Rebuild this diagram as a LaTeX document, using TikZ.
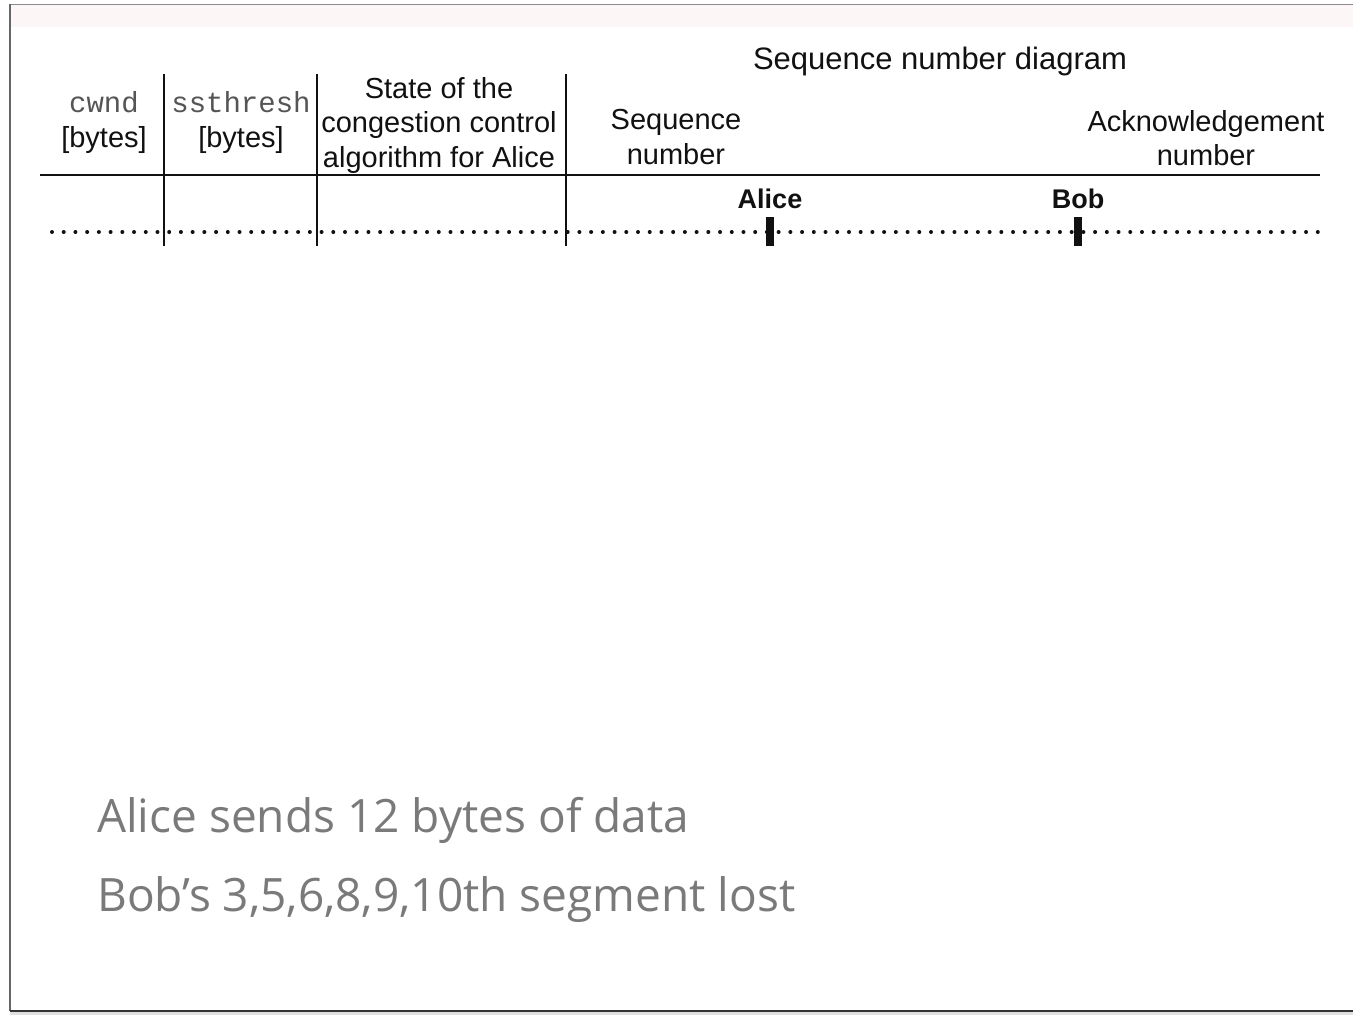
\documentclass[tikz,border=0pt]{standalone}
\usepackage{fontspec}
\setmainfont{Liberation Sans}
\newfontfamily\codefont{Liberation Mono}
\newfontfamily\notefont{Open Sans}
\definecolor{ink}{HTML}{111111}
\definecolor{codegray}{HTML}{555555}
\definecolor{notegray}{HTML}{7A7A7A}
\definecolor{band}{HTML}{FDF6F6}
\tikzset{
  head/.style={font=\fontsize{29}{34.5}\selectfont, text=ink, align=center, inner sep=0pt},
  peer/.style={font=\fontsize{27}{32}\selectfont\bfseries, text=ink, inner sep=0pt},
  note/.style={font=\fontsize{46}{54}\selectfont\notefont, text=notegray, anchor=west, inner sep=0pt},
  rule/.style={draw=ink, line width=2.4pt},
  colsep/.style={draw=ink, line width=2pt},
  timeline/.style={draw=ink, line width=4pt, line cap=round, dash pattern=on 0pt off 11.72pt},
  tick/.style={draw=ink, line width=8pt}
}
\begin{document}
\begin{tikzpicture}[x=1pt, y=-1pt]
  \useasboundingbox (0,0) rectangle (1353,1015);
  % page frame
  \fill[white] (0,0) rectangle (1353,1015);
  \fill[band] (11,5) rectangle (1353,27);
  \fill[black!12] (10,1012) rectangle (1353,1015);
  \draw[black!45, line width=1pt] (10,4) -- (1353,4);
  \draw[black!60, line width=1.5pt] (10,4) -- (10,1011);
  \draw[black!80, line width=2pt] (10,1011) -- (1353,1011);

  % table grid
  \coordinate (hl) at (40,175);   \coordinate (hr) at (1320,175);
  \coordinate (c1t) at (164,74);  \coordinate (c1b) at (164,246);
  \coordinate (c2t) at (317,74);  \coordinate (c2b) at (317,246);
  \coordinate (c3t) at (566,74);  \coordinate (c3b) at (566,246);
  \coordinate (tl) at (52,232);   \coordinate (tr) at (1318,232);
  \draw[timeline] (tl) -- (tr);
  \draw[rule] (hl) -- (hr);
  \draw[colsep] (c1t) -- (c1b);
  \draw[colsep] (c2t) -- (c2b);
  \draw[colsep] (c3t) -- (c3b);

  % column headings
  \node[head] (cwnd) at (104,122.5) {{\codefont\color{codegray}cwnd}\\{[bytes]}};
  \node[head] (ssth) at (241,122.5) {{\codefont\color{codegray}ssthresh}\\{[bytes]}};
  \node[head] (state) at (439,125) {State of the\\congestion control\\algorithm for Alice};
  \node[head, font=\fontsize{31}{36}\selectfont] (title) at (940,61) {Sequence number diagram};
  \node[head] (seq) at (676,137) {Sequence\\number};
  \node[head] (ack) at (1206,138) {Acknowledgement\\number};

  % hosts
  \node[peer] (alice) at (770,199) {Alice};
  \node[peer] (bob) at (1078,199) {Bob};
  \coordinate (at) at (769.5,217); \coordinate (ab) at (769.5,246);
  \coordinate (bt) at (1077.5,217); \coordinate (bb) at (1077.5,246);
  \draw[tick] (at) -- (ab);
  \draw[tick] (bt) -- (bb);

  % notes
  \node[note] (n1) at (97,820) {Alice sends 12 bytes of data};
  \node[note] (n2) at (97,900) {Bob’s 3,5,6,8,9,10th segment lost};
\end{tikzpicture}
\end{document}
